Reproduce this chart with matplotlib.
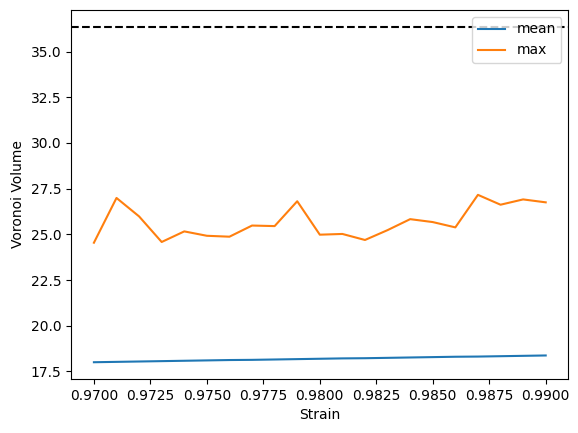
import numpy as np
import matplotlib.pyplot as plt

strain = [0.970, 0.971, 0.972, 0.973, 0.974, 0.975, 0.976, 0.977, 0.978, 0.979, 0.980,
          0.981, 0.982, 0.983, 0.984, 0.985, 0.986, 0.987, 0.988, 0.989, 0.990]
mean_vol = [18.00, 18.02, 18.04, 18.06, 18.08, 18.10, 18.12, 18.13, 18.15, 18.17, 18.19,
            18.21, 18.22, 18.24, 18.26, 18.28, 18.30, 18.31, 18.33, 18.35, 18.37]
max_vol = [24.54, 26.99, 25.98, 24.58, 25.16, 24.92, 24.87, 25.48, 25.45, 26.81, 24.98,
           25.02, 24.69, 25.23, 25.83, 25.67, 25.38, 27.16, 26.62, 26.91, 26.75]
ref_line = 36.36

plt.figure(figsize=(5.78, 4.33), dpi=100)
plt.plot(strain, mean_vol, label="mean")
plt.plot(strain, max_vol, label="max")
plt.axhline(ref_line, color="black", linestyle="--")
plt.xlabel("Strain")
plt.ylabel("Voronoi Volume")
plt.legend(loc="upper right")
plt.subplots_adjust(left=0.1234, right=0.9832, bottom=0.1247, top=0.977)
plt.savefig("out.png")
